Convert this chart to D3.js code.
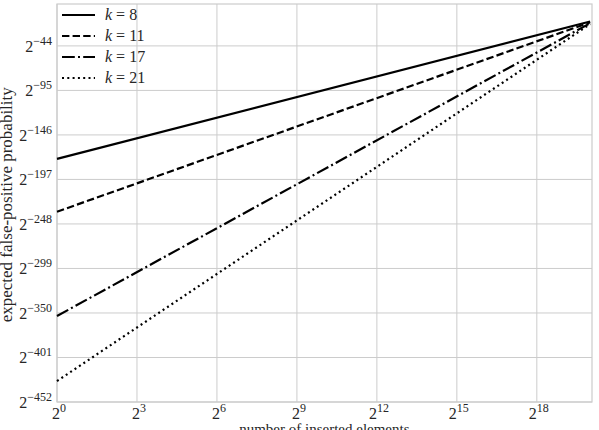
<!DOCTYPE html>
<html>
<head>
  <meta charset="utf-8">
  <title>false-positive probability</title>
  <style>
    body { margin: 0; background: #fff; }
    text { font-family: "Liberation Serif", "DejaVu Serif", serif; fill: #262626; }
    .grid line { stroke: #cccccc; stroke-width: 1px; }
    .frame { fill: none; stroke: #cccccc; stroke-width: 1.2px; }
    .series { fill: none; stroke: #000; stroke-width: 2.2px; }
  </style>
</head>
<body>
  <svg id="chart"></svg>

  <script src="https://d3js.org/d3.v7.min.js"></script>
  <script>
    // log2 of the number of inserted elements
    const xExp = [0, 20];
    // log2 of the expected false-positive probability, per k
    const kValues = [8, 11, 17, 21];
    const yExp8 = [-173.5, -16];
    const yExp11 = [-234, -17];
    const yExp17 = [-353.5, -18];
    const yExp21 = [-428, -19];

    const xTicks = [0, 3, 6, 9, 12, 15, 18];
    const yTicks = [-452, -401, -350, -299, -248, -197, -146, -95, -44];

    const series = [
      { k: kValues[0], ys: yExp8, dash: null },
      { k: kValues[1], ys: yExp11, dash: "7.4,3.2" },
      { k: kValues[2], ys: yExp17, dash: "12.8,3.2,2,3.2" },
      { k: kValues[3], ys: yExp21, dash: "2,3.3" }
    ];

    const width = 599, height = 430;
    const margin = { left: 57, right: 7, top: 4, bottom: 28 };

    const svg = d3.select("#chart")
      .attr("width", width)
      .attr("height", height);

    const x = d3.scaleLinear()
      .domain([0, 20.07])
      .range([margin.left, width - margin.right]);

    const y = d3.scaleLinear()
      .domain([-452, 4])
      .range([height - margin.bottom, margin.top]);

    // grid lines
    const grid = svg.append("g").attr("class", "grid");
    grid.selectAll(".gx")
      .data(xTicks)
      .enter()
      .append("line")
      .attr("x1", d => x(d)).attr("x2", d => x(d))
      .attr("y1", y.range()[0]).attr("y2", y.range()[1]);
    grid.selectAll(".gy")
      .data(yTicks)
      .enter()
      .append("line")
      .attr("y1", d => y(d)).attr("y2", d => y(d))
      .attr("x1", x.range()[0]).attr("x2", x.range()[1]);

    svg.append("rect")
      .attr("class", "frame")
      .attr("x", x.range()[0])
      .attr("y", y.range()[1])
      .attr("width", x.range()[1] - x.range()[0])
      .attr("height", y.range()[0] - y.range()[1]);

    // tick labels as powers of two
    const xLab = svg.selectAll(".xl")
      .data(xTicks)
      .enter()
      .append("text")
      .attr("x", d => x(d) + 2)
      .attr("y", 419)
      .attr("text-anchor", "middle")
      .style("font-size", "16px");
    xLab.append("tspan").text("2");
    xLab.append("tspan")
      .attr("dy", -7)
      .style("font-size", "12px")
      .text(d => d);

    const yLab = svg.selectAll(".yl")
      .data(yTicks)
      .enter()
      .append("text")
      .attr("x", 52)
      .attr("y", d => y(d) + 6)
      .attr("text-anchor", "end")
      .style("font-size", "16px");
    yLab.append("tspan").text("2");
    yLab.append("tspan")
      .attr("dy", -7)
      .style("font-size", "12px")
      .text(d => "\u2212" + Math.abs(d));

    // axis titles
    svg.append("text")
      .attr("x", x(10.03))
      .attr("y", 434)
      .attr("text-anchor", "middle")
      .style("font-size", "15px")
      .text("number of inserted elements");

    svg.append("text")
      .attr("transform", `translate(12,${y(-226)}) rotate(-90)`)
      .attr("text-anchor", "middle")
      .style("font-size", "17px")
      .text("expected false-positive probability");

    // lines
    const line = d3.line()
      .x((d, i) => x(xExp[i]))
      .y(d => y(d));

    svg.selectAll(".series")
      .data(series)
      .enter()
      .append("path")
      .attr("class", "series")
      .attr("d", d => line(d.ys))
      .attr("stroke-dasharray", d => d.dash);

    // legend
    const legend = svg.append("g");
    const row = legend.selectAll("g")
      .data(series)
      .enter()
      .append("g")
      .attr("transform", (d, i) => `translate(62,${15 + i * 21})`);
    row.append("line")
      .attr("class", "series")
      .attr("x1", 0).attr("x2", 33)
      .attr("y1", 0).attr("y2", 0)
      .attr("stroke-dasharray", d => d.dash);
    const lt = row.append("text")
      .attr("x", 43)
      .attr("y", 5)
      .style("font-size", "16px");
    lt.append("tspan").style("font-style", "italic").text("k");
    lt.append("tspan").text(d => " = " + d.k);
  </script>
</body>
</html>
